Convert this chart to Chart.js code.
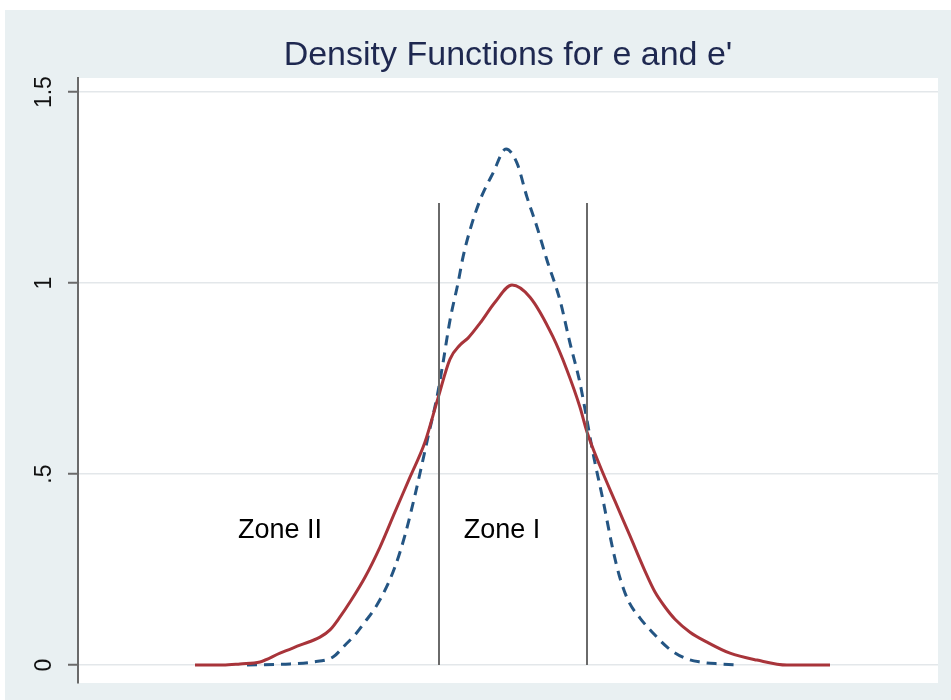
<!DOCTYPE html>
<html>
<head>
<meta charset="utf-8">
<script src="https://cdn.jsdelivr.net/npm/chart.js@4.4.0/dist/chart.umd.min.js"></script>
<style>
  html, body { margin: 0; padding: 0; background: #fff; }
  #wrap { width: 951px; height: 700px; }
</style>
</head>
<body>
<div id="wrap"><canvas id="densityChart" width="951" height="700"></canvas></div>
<script>
const chartTitle = "Density Functions for e and e'";

// density of e' (solid red)
const redX = [-3.13, -2.85, -2.68, -2.48, -2.28, -2.08, -1.88, -1.78, -1.68, -1.58, -1.43, -1.28, -1.13, -0.98, -0.83, -0.70, -0.58, -0.48, -0.40, -0.28, -0.13, 0.04, 0.22, 0.45, 0.59, 0.72, 0.79, 0.92, 1.07, 1.22, 1.37, 1.47, 1.57, 1.67, 1.82, 1.99, 2.22, 2.49, 2.79, 3.22];
const redY = [0, 0, 0.003, 0.008, 0.031, 0.052, 0.073, 0.092, 0.126, 0.165, 0.230, 0.309, 0.401, 0.492, 0.584, 0.699, 0.801, 0.838, 0.856, 0.895, 0.950, 0.995, 0.963, 0.859, 0.772, 0.675, 0.610, 0.521, 0.429, 0.338, 0.246, 0.191, 0.152, 0.120, 0.086, 0.060, 0.031, 0.013, 0, 0];

// density of e (dashed blue)
const blueX = [-2.61, -2.18, -1.95, -1.75, -1.63, -1.53, -1.43, -1.33, -1.23, -1.13, -1.03, -0.93, -0.86, -0.80, -0.71, -0.65, -0.58, -0.50, -0.45, -0.38, -0.28, -0.15, -0.02, 0.09, 0.19, 0.29, 0.39, 0.52, 0.62, 0.72, 0.79, 0.85, 0.95, 1.05, 1.12, 1.20, 1.32, 1.45, 1.60, 1.77, 1.92, 2.12, 2.32];
const blueY = [0, 0.003, 0.008, 0.021, 0.052, 0.079, 0.113, 0.149, 0.196, 0.257, 0.340, 0.445, 0.526, 0.597, 0.702, 0.791, 0.903, 1.0, 1.068, 1.139, 1.217, 1.288, 1.351, 1.314, 1.225, 1.147, 1.060, 0.955, 0.843, 0.738, 0.641, 0.555, 0.432, 0.301, 0.228, 0.170, 0.123, 0.084, 0.045, 0.018, 0.008, 0.003, 0];

// zone boundaries
const cutX = [-0.69, 0.79];
const cutTop = 1.21;

const zoneLabels = ['Zone II', 'Zone I'];
const zoneX = [-2.28, -0.06];
const zoneY = 0.353;

const yTicks = [0, 0.5, 1, 1.5];
const yTickLabels = ['0', '.5', '1', '1.5'];

const toPts = (xs, ys) => xs.map((x, i) => ({ x: x, y: ys[i] }));

const decor = {
    id: 'decor',
    beforeDraw(chart) {
        const c = chart.ctx, a = chart.chartArea;
        c.save();
        c.fillStyle = '#ffffff';
        c.fillRect(0, 0, chart.width, chart.height);
        c.fillStyle = '#e9f0f2';
        c.fillRect(5, 10, chart.width - 5, chart.height - 10);
        c.fillStyle = '#ffffff';
        c.fillRect(a.left, a.top, a.right - a.left, a.bottom - a.top);
        c.restore();
    },
    afterDraw(chart) {
        const c = chart.ctx, ys = chart.scales.y, xs = chart.scales.x, a = chart.chartArea;
        c.save();
        // title, centred over the plot region
        c.fillStyle = '#1e2850';
        c.font = '34px "Liberation Sans"';
        c.textAlign = 'center';
        c.textBaseline = 'alphabetic';
        c.fillText(chartTitle, (a.left + a.right) / 2, 65);
        // rotated y tick labels
        c.fillStyle = '#111';
        c.font = '23px "Liberation Sans"';
        c.textBaseline = 'middle';
        yTicks.forEach((v, i) => {
            c.save();
            c.translate(45, ys.getPixelForValue(v));
            c.rotate(-Math.PI / 2);
            c.fillText(yTickLabels[i], 0, 0);
            c.restore();
        });
        // zone labels
        c.font = '27px "Liberation Sans"';
        c.fillStyle = '#000';
        zoneLabels.forEach((t, i) => {
            c.fillText(t, xs.getPixelForValue(zoneX[i]), ys.getPixelForValue(zoneY));
        });
        c.restore();
    }
};

const ctx = document.getElementById('densityChart').getContext('2d');
const densityChart = new Chart(ctx, {
    type: 'line',
    data: {
        datasets: [
            {
                label: 'cut1',
                data: [{ x: cutX[0], y: 0 }, { x: cutX[0], y: cutTop }],
                borderColor: '#6a6a6a',
                borderWidth: 2,
                pointRadius: 0,
            },
            {
                label: 'cut2',
                data: [{ x: cutX[1], y: 0 }, { x: cutX[1], y: cutTop }],
                borderColor: '#6a6a6a',
                borderWidth: 2,
                pointRadius: 0,
            },
            {
                label: "e'",
                data: toPts(redX, redY),
                borderColor: '#a8343a',
                borderWidth: 3,
                pointRadius: 0,
                cubicInterpolationMode: 'monotone',
            },
            {
                label: 'e',
                data: toPts(blueX, blueY),
                borderColor: '#245583',
                borderWidth: 3,
                borderDash: [10, 7],
                pointRadius: 0,
                cubicInterpolationMode: 'monotone',
            }
        ]
    },
    options: {
        responsive: false,
        animation: false,
        layout: { padding: { left: 0, right: 13, bottom: 17, top: 78 } },
        scales: {
            x: {
                type: 'linear',
                min: -4.3,
                max: 4.3,
                display: false,
            },
            y: {
                min: -0.047,
                max: 1.537,
                afterFit(scale) { scale.width = 78; },
                afterBuildTicks(scale) { scale.ticks = yTicks.map(v => ({ value: v })); },
                ticks: { display: false },
                grid: {
                    color: '#e3e7ea',
                    lineWidth: 1.5,
                    tickLength: 10,
                    tickColor: '#6a6a6a',
                    tickWidth: 2,
                },
                border: { color: '#6a6a6a', width: 2 },
            }
        },
        plugins: {
            legend: { display: false },
            tooltip: { enabled: false },
            title: { display: false }
        }
    },
    plugins: [decor]
});
</script>
</body>
</html>
